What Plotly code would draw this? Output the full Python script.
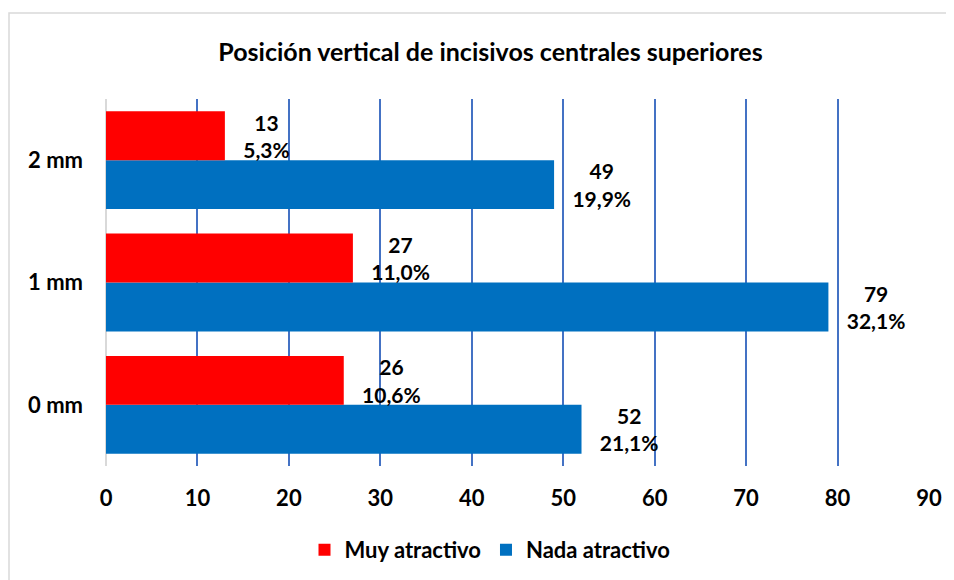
import plotly.graph_objects as go

categories = ["0 mm", "1 mm", "2 mm"]
muy_counts = [26, 27, 13]
muy_pcts = ["10,6%", "11,0%", "5,3%"]
nada_counts = [52, 79, 49]
nada_pcts = ["21,1%", "32,1%", "19,9%"]
x_ticks = [0, 10, 20, 30, 40, 50, 60, 70, 80, 90]

FONT = "Lato"
OFF = 8  # page body margin
W, H = 954 - OFF, 580 - OFF
ML, MR = 106 - OFF, 954 - 929
MT, MB = 99 - OFF, 580 - 466
PW, PH = W - ML - MR, H - MT - MB
PAD = "\u00a0\u00a0\u00a0"


def label(c, p):
    return f"{PAD}{c}<br>{PAD}{p}"


fig = go.Figure()
fig.add_trace(go.Bar(
    y=categories, x=nada_counts, orientation="h", name="Nada atractivo",
    marker=dict(color="#0070C0", line=dict(width=0)),
    text=[label(c, p) for c, p in zip(nada_counts, nada_pcts)],
    textposition="outside", cliponaxis=False, constraintext="none",
    textfont=dict(family=FONT, size=21, color="black", weight="bold"),
    legendrank=2,
))
fig.add_trace(go.Bar(
    y=categories, x=muy_counts, orientation="h", name="Muy atractivo",
    marker=dict(color="#FF0000", line=dict(width=0)),
    text=[label(c, p) for c, p in zip(muy_counts, muy_pcts)],
    textposition="outside", cliponaxis=False, constraintext="none",
    textfont=dict(family=FONT, size=21, color="black", weight="bold"),
    legendrank=1,
))

fig.update_layout(
    width=W, height=H,
    margin=dict(l=ML, r=MR, t=MT, b=MB),
    paper_bgcolor="white", plot_bgcolor="white",
    barmode="group", bargap=0.2, bargroupgap=0,
    font=dict(family=FONT, color="black"),
    title=dict(text="<b>Posición vertical de incisivos centrales superiores</b>",
               x=(490.5 - OFF) / W, xref="container", xanchor="center",
               y=1 - (52 - OFF) / H, yref="container", yanchor="middle",
               font=dict(family=FONT, size=25, color="black")),
    xaxis=dict(range=[0, 90], tickvals=x_ticks, showgrid=True,
               gridcolor="#4472C4", gridwidth=1.5,
               zeroline=True, zerolinecolor="#D9D9D9", zerolinewidth=1.5,
               showline=False, ticks="", ticklabelstandoff=17,
               tickfont=dict(family=FONT, size=22, color="black", weight="bold")),
    yaxis=dict(showgrid=False, showline=False, ticks="", ticklabelstandoff=22,
               tickfont=dict(family=FONT, size=22, color="black", weight="bold")),
    legend=dict(orientation="h", xref="container", x=(490 - OFF) / W, xanchor="center",
                yref="container", y=1 - (550 - OFF) / H, yanchor="middle",
                font=dict(family=FONT, size=22, color="black", weight="bold"),
                itemwidth=30, traceorder="normal"),
    showlegend=True,
)

fig.add_shape(type="rect", xref="paper", yref="paper",
              x0=(9 - OFF - ML) / PW, x1=(W + 10 - ML) / PW,
              y0=-(H + 10 - (MT + PH)) / PH, y1=1 + (MT - (13 - OFF)) / PH,
              line=dict(color="#D9D9D9", width=1.5), fillcolor="rgba(0,0,0,0)",
              layer="below")

fig.write_html("out.html")
